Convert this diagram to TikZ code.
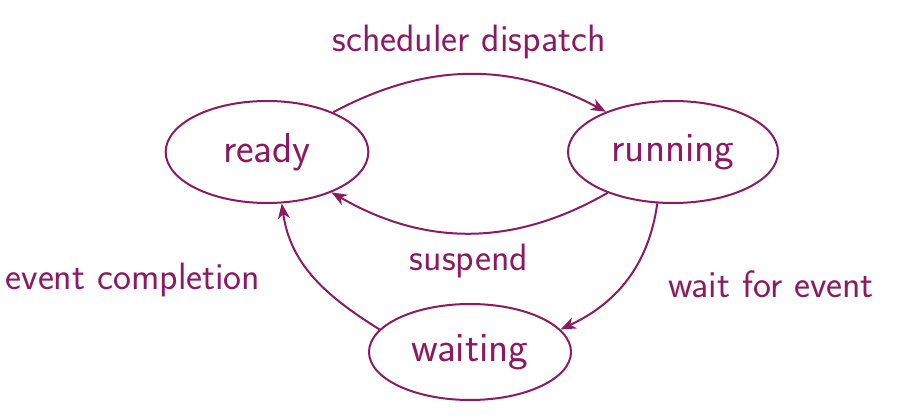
\documentclass[tikz,border=0pt]{standalone}
\usetikzlibrary{shapes.geometric,arrows.meta}
\definecolor{pc}{RGB}{139,26,97}
\begin{document}
\begin{tikzpicture}[x=0.75pt,y=-0.75pt,
  state/.style={ellipse,draw=pc,line width=1.5pt,inner sep=0pt,text=pc,font=\sffamily\fontsize{31.3}{36}\selectfont},
  lab/.style={text=pc,inner sep=0pt,font=\sffamily\fontsize{28.6}{34}\selectfont},
  edge/.style={draw=pc,line width=1.5pt,-{Stealth[length=11.5pt,width=9pt,inset=3.5pt]}}]
\useasboundingbox (0,0) rectangle (902,416);
\node[state,minimum width=152pt,minimum height=76.5pt] (ready) at (267,152) {ready};
\node[state,minimum width=157.5pt,minimum height=76.5pt] (running) at (673,152) {running};
\node[state,minimum width=151.5pt,minimum height=72pt] (waiting) at (470,352) {waiting};
\draw[edge] (ready.31) to[bend left=28] (running.149);
\draw[edge] (running.212) to[bend left=30] (ready.328);
\draw[edge] (running.253) to[out=-98,in=25] (waiting.14);
\draw[edge] (waiting.166) to[out=148,in=-82] (ready.286);
\node[lab] (l1) at (469,42) {scheduler dispatch};
\node[lab] (l2) at (469,261) {suspend};
\node[lab] (l3) at (133,280) {event completion};
\node[lab] (l4) at (771,284) {wait for event};
\end{tikzpicture}
\end{document}
